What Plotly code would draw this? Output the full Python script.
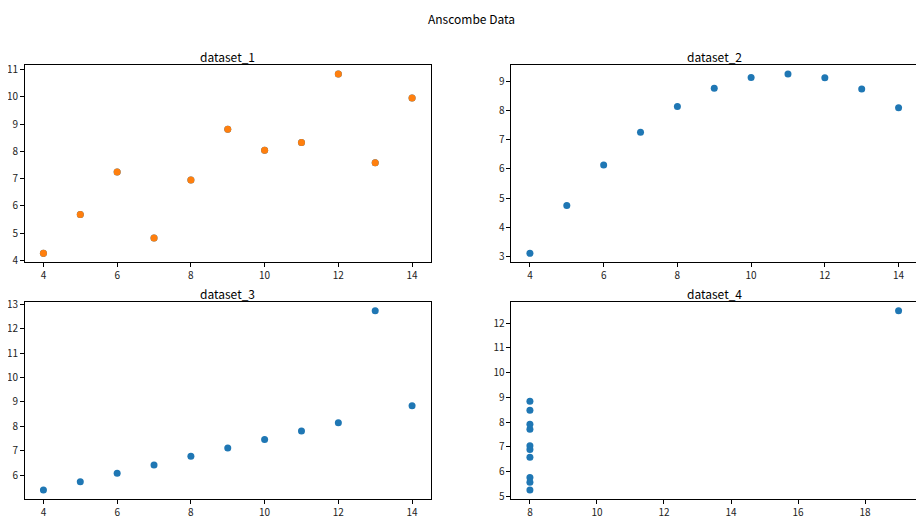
import plotly.graph_objects as go
from plotly.subplots import make_subplots

# Anscombe quartet
x_123 = [10, 8, 13, 9, 11, 14, 6, 4, 12, 7, 5]
y_1 = [8.04, 6.95, 7.58, 8.81, 8.33, 9.96, 7.24, 4.26, 10.84, 4.82, 5.68]
y_2 = [9.14, 8.14, 8.74, 8.77, 9.26, 8.10, 6.13, 3.10, 9.13, 7.26, 4.74]
y_3 = [7.46, 6.77, 12.74, 7.11, 7.81, 8.84, 6.08, 5.39, 8.15, 6.42, 5.73]
x_4 = [8, 8, 8, 8, 8, 8, 8, 19, 8, 8, 8]
y_4 = [6.58, 5.76, 7.71, 8.84, 8.47, 7.04, 5.25, 12.50, 5.56, 7.91, 6.89]

titles = ["dataset_1", "dataset_2", "dataset_3", "dataset_4"]

BLUE = "#1f77b4"
ORANGE = "#ff7f0e"
FONT = "Noto Sans CJK SC"


def padded(vals, frac=0.05):
    lo, hi = min(vals), max(vals)
    pad = (hi - lo) * frac
    return [lo - pad, hi + pad]


fig = make_subplots(
    rows=2, cols=2,
    subplot_titles=titles,
    horizontal_spacing=0.0908,
    vertical_spacing=0.0908,
)

panels = [
    (1, 1, x_123, y_1),
    (1, 2, x_123, y_2),
    (2, 1, x_123, y_3),
    (2, 2, x_4, y_4),
]

for row, col, xs, ys in panels:
    fig.add_trace(go.Scatter(
        x=xs, y=ys, mode="markers",
        marker=dict(color=BLUE, size=7),
        showlegend=False,
    ), row=row, col=col)
    fig.update_xaxes(range=padded(xs), row=row, col=col)
    fig.update_yaxes(range=padded(ys), row=row, col=col)

# dataset_1 drawn a second time in orange on top
fig.add_trace(go.Scatter(
    x=x_123, y=y_1, mode="markers",
    marker=dict(color=ORANGE, size=7),
    showlegend=False,
), row=1, col=1)

axis_style = dict(
    showgrid=False, zeroline=False, automargin=False,
    showline=True, linecolor="black", linewidth=1, mirror=True,
    ticks="outside", ticklen=4, tickcolor="black",
    tickfont=dict(size=10, color="#222222"),
)
fig.update_xaxes(dtick=2, **axis_style)
fig.update_yaxes(dtick=1, **axis_style)

for ann in fig.layout.annotations:
    ann.font = dict(size=12, color="black", family=FONT)
    ann.yshift = -2

# figure title as an annotation above the grid
fig.add_annotation(
    text="Anscombe Data", xref="paper", yref="paper",
    x=0.5, y=1, xanchor="center", yanchor="bottom", yshift=36,
    showarrow=False, font=dict(size=12, color="black", family=FONT),
)

# page body adds an 8px offset, so the figure is 8px smaller
fig.update_layout(
    font=dict(family=FONT, color="black"),
    width=916, height=513,
    margin=dict(l=16.5, r=7.3, t=56.5, b=21.7, autoexpand=False),
    plot_bgcolor="white",
    paper_bgcolor="white",
)

fig.write_html("out.html")
